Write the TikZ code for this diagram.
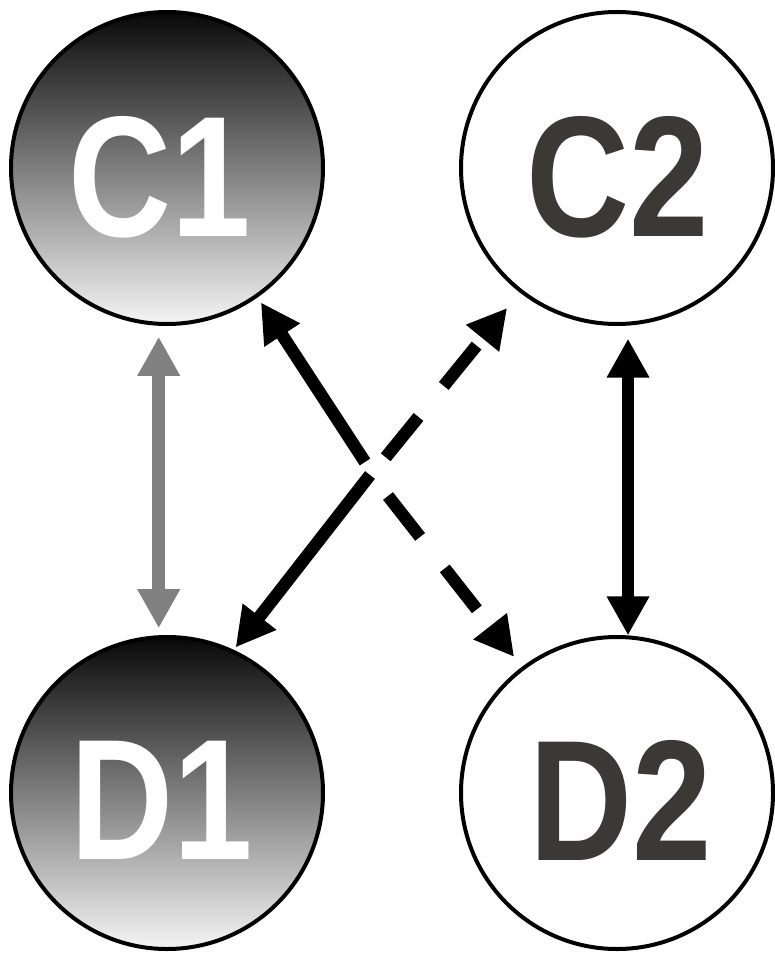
\documentclass[tikz,border=0pt]{standalone}
\usepackage{fontspec}
\setmainfont{Liberation Sans}
\usetikzlibrary{arrows.meta}
\definecolor{txtdark}{HTML}{3A3935}
\definecolor{arrgray}{HTML}{808080}
\newcommand{\narrowtxt}[1]{\scalebox{0.83}[1]{#1}}
\begin{document}
\begin{tikzpicture}[x=1pt,y=-1pt,
  state/.style={circle, draw=black, line width=4pt, minimum size=312pt, inner sep=0pt},
  darkstate/.style={state, top color=black!97, bottom color=black!4},
  lightstate/.style={state, fill=white},
  lbl/.style={font=\fontsize{172}{172}\selectfont\bfseries, inner sep=0pt},
  tip/.style={-{Triangle[width=40pt,length=39pt]}},
  conn/.style={line width=12.5pt, tip},
  biconn/.style={line width=12.5pt, {Triangle[width=40pt,length=39pt]}-{Triangle[width=40pt,length=39pt]}},
  dashconn/.style={conn, dash pattern=on 52pt off 40pt}]
\useasboundingbox (0,0) rectangle (775,957);
\node[darkstate]  (C1) at (167,168) {};
\node[lightstate] (C2) at (617,168) {};
\node[darkstate]  (D1) at (167,793) {};
\node[lightstate] (D2) at (617,793) {};
\node[lbl, text=white]   (C1t) at (159.5,177) {\narrowtxt{C1}};
\node[lbl, text=txtdark] (C2t) at (618,177) {\narrowtxt{C2}};
\node[lbl, text=white]   (D1t) at (161.5,800) {\narrowtxt{D1}};
\node[lbl, text=txtdark] (D2t) at (620.5,800) {\narrowtxt{D2}};
% vertical arrows
\draw[biconn, draw=arrgray, fill=arrgray, shorten <=11pt, shorten >=7pt] (C1.-93) -- (D1.93);
\draw[biconn, shorten <=13pt, shorten >=0pt] (C2.-86.4) -- (D2.86.4);
% diagonal arrows
\coordinate (xa1) at (365,462);
\coordinate (xa2) at (388,496);
\coordinate (xb1) at (370,475);
\coordinate (xb2) at (385.7,457.3);
\draw[conn, shorten >=6pt] (xa1) -- (C1.-55.5);
\draw[dashconn, shorten >=12.6pt] (xa2) -- (D2.127.8);
\draw[conn, shorten >=3pt] (xb1) -- (D1.65.3);
\draw[dashconn, shorten >=20pt] (xb2) -- (C2.-128.8);
\end{tikzpicture}
\end{document}
